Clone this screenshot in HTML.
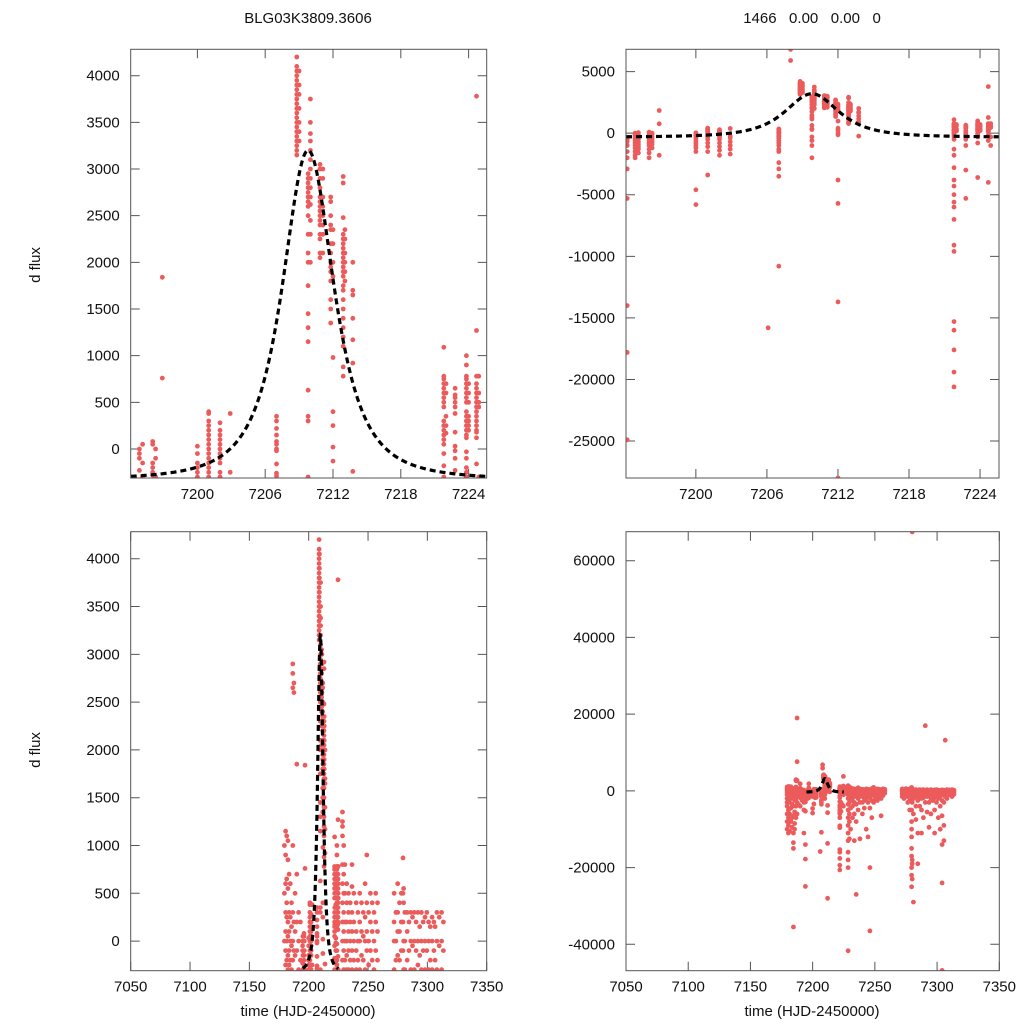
<!DOCTYPE html>
<html><head><meta charset="utf-8"><title>BLG03K3809.3606 light curve</title>
<style>
html,body{margin:0;padding:0;background:#fff;width:1024px;height:1024px;overflow:hidden;}
svg{display:block;font-family:"Liberation Sans",Arial,sans-serif;}
</style></head>
<body>
<svg id="chart" width="1024" height="1024" viewBox="0 0 1024 1024" xmlns="http://www.w3.org/2000/svg">
<rect width="1024" height="1024" fill="#fff"/>
</svg>
<script>
// ---- data: observation nights (time) and flux values per night ----
const nightTimes = [7179.5,7180.5,7181.5,7182.5,7183.5,7184.5,7185.5,7186.6,7187.5,7188.5,7190,7191.5,7193,
7194.2,7194.87,7195.15,7196.05,7196.3,7196.9,7200,7201,7202,7202.9,7206.1,7207,7208,7208.8,7209,7209.8,7210,7210.85,7211.1,7211.8,7212,7212.9,7213.05,7213.75,
7221.8,7222,7222.8,7223.8,7224,7224.7,7224.9,
7228.5,7229.5,7230.5,7232,7233.5,7235,7236.5,7238,7240,7241.5,7243,7244.5,7246,7247.5,7249,7250.5,7252,7253.5,7255,7256.5,7258,
7272,7273.5,7275,7276.5,7278,7279.5,7280,7281,7283,7284.5,7286,7287.5,7289,7290.5,7292,7293.5,7295,7296.5,7298,7299.5,7301,7302.5,7304,7305.5,7306.5,7308,7310,7312,7313.5];
const nightFluxes = [
[1000,500,0,-500,-1000,-2000,-3000,-4000,-6000,-8000,-10000],
[1150,900,600,300,100,-100,-250,-600,-1500,-2500,-5000,-7000,-9000,-11000],
[1100,650,400,250,0,-200,-400,-1000,-3000,-6000,-10500],
[1050,850,550,200,50,-150,-300,-800,-2000,-4500,-8000],
[700,300,100,-100,-250,-700,-1200,-3500,-7000,-9500],
[600,250,0,-200,-500,-1500,-4000,-6500,-11000,-13500,-15000,-35500],
[400,150,-50,-300,-900,-2500,-5500,-8500,-10000],
[2900,2800,2650,1000,300,0,-200,-700,-2000,-4000,-7000],
[19000,7600,2700,2600,200,-100,-400,-1200,-3000,-6000],
[500,100,-150,-500,-1500,-3500],
[1850,700,200,-100,-600,-1800,-4000],
[300,0,-300,-1000,-2500],
[200,-200,-800,-1600,-3000,-5000,-11000],
[-500,-700,-1000,-1500,-2000,-2900,-5300,-14000,-17800,-24900],
[0,-50,-100,-230,-400,-600,-800,-1000,-1200,-1500,-1800,-2000],
[50,-150,-300,-500,-700,-900,-1100,-1300,-1600],
[80,50,-150,-200,-250,-280,-400,-600,-800,-1000,-1300,-1600,-2000],
[0,-100,-300,-500,-700,-900,-1200],
[1840,760,-1800],
[30,-50,-150,-200,-250,-300,-400,-600,-800,-1000,-1200,-1500,-4600,-5800],
[400,380,300,250,200,150,100,50,0,-50,-100,-150,-200,-250,-300,-500,-800,-1100,-1500,-3400],
[280,200,150,100,50,0,-50,-100,-150,-250,-300,-500,-800,-1100,-1400,-1800],
[380,-250,-400,-700,-1000,-1300,-1700],
[-15800],
[350,300,220,150,80,50,0,-20,-160,-260,-290,-400,-600,-800,-1000,-1300,-1500,-2400,-2900,-3500,-10800],
[6800,5900],
[4200,4100,4050,4000,3950,3900,3850,3800,3750,3700,3650,3600,3550,3500,3450,3400,3350,3300,3250,3200,3150],
[4050,3900,3800,3650,3500,3400,3300],
[2950,2900,2850,2800,2750,2700,2650,2600,2500,2300,2100,2000,1750,1450,1300,1150,630,350,300,-300,-600,-1000,-2000],
[3750,3500,3380,3300,3200,3100,3000,2900,2800,2700,2620,2450,2300,2000],
[3050,3000,2900,2800,2700,2650,2600,2550,2500,2450,2400,2300,2250,2100,2050],
[3000,2900,2700,2600,2500,2400,2300,2100],
[2700,2650,2500,2400,2350,2200,2100,2000,1950,1900,1800,1600,1500,1350],
[2350,2200,2000,1850,980,400,250,20,-130,-3800,-5700,-13700,-28000],
[2920,2850,2480,2300,2250,2200,2150,2100,2050,2000,1950,1900,1850,1750,1700,1600,1500,1400,1300,1200,1100,880,780],
[2350,2250,2100,2000,1900,1800],
[2000,1700,1650,1400,1170,920,-240],
[1090,780,750,700,650,600,550,500,450,300,250,200,150,100,50,-50,-180,-300,-500,-1300,-1800,-2800,-3800,-4300,-5000,-5600,-6000,-7000,-9100,-9600,-15300,-16000,-17600,-19400,-20600],
[700,600,350,250,170],
[650,580,550,500,450,380,180,30,-20,-100,-230,-500,-1000,-3000,-5300],
[1000,900,780,750,700,650,600,550,500,400,350,300,250,200,150,120,-30,-100,-200,-250,-300,-800,-3600],
[700,600,500,350,300,250,200],
[3780,1270,780,700,650,600,550,500,450,400,350,300,250,200,180,120,-160,-600,-4000],
[780,600,500,450,-300,-1000],
[1350,1250,1200,1100,800,600,400,200,0,-200,-500,-1000,-2000,-3500,-5000,-7000,-9000,-11000,-13000,-16000,-18000,-20000,-41700],
[1000,700,500,300,100,-100,-300,-700,-1500,-3000,-6000,-8000,-12500],
[800,500,200,0,-200,-600,-1200,-2500,-4500,-10000],
[600,400,200,0,-150,-300,-800,-2000,-4000,-7000],
[500,300,100,-100,-300,-1000,-3000,-6000,-13000],
[400,200,0,-200,-500,-1500,-3500,-8000,-27000],
[800,570,300,100,-100,-300,-800,-2000,-5000],
[500,200,0,-200,-600,-1500,-3000,-12500],
[400,100,-100,-300,-700,-1500,-3000,-6000],
[300,0,-200,-500,-1200,-2500,-4500],
[500,200,0,-300,-800,-2000,-10000],
[400,100,-150,-500,-1500,-3000,-12000],
[300,50,-200,-600,-1800,-4500,-20000,-36500],
[600,250,0,-300,-900,-2500,-7000],
[900,400,100,-100,-400,-1200,-3000],
[300,0,-250,-700,-2000],
[500,200,-100,-400,-1000,-2500],
[400,100,-200,-600,-1500],
[300,0,-300,-800,-2000,-6500],
[500,200,-100,-500,-1200],
[400,100,-200,-600],
[500,200,0,-300,-800,-1500],
[300,0,-200,-600,-1200,-2000],
[600,300,100,-150,-500,-1000],
[400,100,-200,-500,-1500,-3000],
[500,200,-100,-400,-1000,-2500,-5000],
[870,500,200,-100,-500,-1500,-5000,-8000,-10000,-12000,-15000,-17000,-20000,-22000,-25000],
[67500,550,400,0,-300,-1000,-3000,-18000,-19000,-23000],
[300,0,-300,-800,-2000,-29000,-6000],
[300,100,-200,-500,-1500,-4000,-7500],
[200,-100,-400,-1000,-2500,-11000,-19000],
[300,0,-300,-800,-1500,-4000],
[250,-50,-400,-900,-2000,-5000,-11000],
[300,0,-300,-700,-1800,-7000],
[17000,200,-100,-400,-1000,-3000],
[300,0,-250,-700,-1500,-5500],
[150,-150,-500,-1200,-3000,-9500],
[300,0,-300,-800,-2000,-6000],
[200,-100,-400,-1000,-2500],
[250,0,-300,-700,-1800,-11000,-5000],
[300,-100,-500,-1200,-3000],
[200,0,-300,-800,-2000,-7000],
[150,-200,-500,-1500,-4000,-10000],
[250,0,-300,-900,-2500,-6500,-14000,-24000,-46800],
[200,-100,-400,-1100,-3000,-9000,-13000],
[13200,150,-200,-600,-1500],
[300,0,-300,-800,-2000],
[250,-50,-400,-1000],
[300,0,-300,-700,-1500],
[200,-100,-400,-900]
];
// model (microlensing fit) parameters
const modelBase = -330, modelAmp = 3530, modelT0 = 7209.8, modelWidth = 3.52, modelPow = 1.5;
// tick labels
const zoomTimeTicks = [7200,7206,7212,7218,7224];
const fullTimeTicks = [7050,7100,7150,7200,7250,7300,7350];
const smallFluxTicks = [0,500,1000,1500,2000,2500,3000,3500,4000];
const zoomFullFluxTicks = [5000,0,-5000,-10000,-15000,-20000,-25000];
const fullFluxTicks = [-40000,-20000,0,20000,40000,60000];

const NS = 'http://www.w3.org/2000/svg';
const svg = document.getElementById('chart');
function mk(tag, attrs, parent){
  const e = document.createElementNS(NS, tag);
  for (const k in attrs) e.setAttribute(k, attrs[k]);
  (parent||svg).appendChild(e);
  return e;
}
function model(t){
  const d = (t - modelT0)/modelWidth;
  return modelBase + modelAmp/Math.pow(1 + d*d, modelPow);
}

const panels = [
  {id:'top-left', x0:130.7, x1:486.7, y0:49.3, y1:478, xr:[7194.1,7225.6], yr:[-311,4283], xt:zoomTimeTicks, yt:smallFluxTicks, mr:[7194.1,7225.6]},
  {id:'top-right', x0:626, x1:999, y0:49.3, y1:478, xr:[7194.1,7225.6], yr:[-28000,6810], xt:zoomTimeTicks, yt:zoomFullFluxTicks, mr:[7194.1,7225.6]},
  {id:'bottom-left', x0:130.7, x1:486.7, y0:531.7, y1:970.7, xr:[7050,7350], yr:[-310,4283], xt:fullTimeTicks, yt:smallFluxTicks, mr:[7195,7225]},
  {id:'bottom-right', x0:626, x1:999.3, y0:531.7, y1:970.7, xr:[7050,7350], yr:[-46880,67560], xt:fullTimeTicks, yt:fullFluxTicks, mr:[7195,7225]}
];

panels.forEach((p, pi) => {
  const sx = t => p.x0 + (t - p.xr[0])/(p.xr[1]-p.xr[0])*(p.x1-p.x0);
  const sy = v => p.y1 - (v - p.yr[0])/(p.yr[1]-p.yr[0])*(p.y1-p.y0);
  const g = mk('g', {});
  
  
  const cp = mk('clipPath', {id:'clip'+pi}, g);
  mk('rect', {x:p.x0, y:p.y0, width:p.x1-p.x0, height:p.y1-p.y0}, cp);

  p.xt.forEach(t => {
    const x = sx(t);
    const tk = mk('path', {d:`M${x},${p.y1}v-9M${x},${p.y0}v9`, stroke:'#555', 'stroke-width':1}, g);
    
    
    const lb = mk('text', {x:x, y:p.y1+21, 'text-anchor':'middle', 'font-size':15, fill:'#111'}, g);
    lb.textContent = t;
    
    
  });
  p.yt.forEach(v => {
    const y = sy(v);
    const tk = mk('path', {d:`M${p.x0},${y}h9M${p.x1},${y}h-9`, stroke:'#555', 'stroke-width':1}, g);
    
    
    const lb = mk('text', {x:p.x0-11, y:y+5, 'text-anchor':'end', 'font-size':15, fill:'#111'}, g);
    lb.textContent = v;
    
    
  });

  const pts = mk('g', {'clip-path':`url(#clip${pi})`, fill:'#ec5b5b'}, g);
  
  
  nightTimes.forEach((t, i) => {
    nightFluxes[i].forEach(v => {
      const c = mk('circle', {cx:sx(t).toFixed(1), cy:sy(v).toFixed(1), r:2.4}, pts);
      
      
    });
  });

  let d = '';
  const n = 400;
  for (let k = 0; k <= n; k++){
    const t = p.mr[0] + (p.mr[1]-p.mr[0])*k/n;
    d += (k ? 'L' : 'M') + sx(t).toFixed(2) + ',' + sy(model(t)).toFixed(2);
  }
  const ml = mk('path', {d:d, fill:'none', stroke:'#000', 'stroke-width':3.2, 'stroke-dasharray':'6,4', 'clip-path':`url(#clip${pi})`}, g);
  
  

  const fr = mk('rect', {x:p.x0, y:p.y0, width:p.x1-p.x0, height:p.y1-p.y0, fill:'none', stroke:'#555', 'stroke-width':1}, g);
  
  
});

function label(txt, attrs, name){
  const e = mk('text', attrs);
  e.textContent = txt;
  
  
}
label('BLG03K3809.3606', {x:308, y:23, 'text-anchor':'middle', 'font-size':15, fill:'#111'}, 'left-title');
label('1466\u00a0\u00a0\u00a00.00\u00a0\u00a0\u00a00.00\u00a0\u00a0\u00a00', {x:812, y:23, 'text-anchor':'middle', 'font-size':15, fill:'#111'}, 'right-title');
label('d flux', {x:0, y:0, 'text-anchor':'middle', 'font-size':15, fill:'#111', transform:'translate(40,265) rotate(-90)'}, 'y-axis-title-top');
label('d flux', {x:0, y:0, 'text-anchor':'middle', 'font-size':15, fill:'#111', transform:'translate(40,750) rotate(-90)'}, 'y-axis-title-bottom');
label('time (HJD-2450000)', {x:308, y:1016, 'text-anchor':'middle', 'font-size':15, fill:'#111'}, 'x-axis-title-left');
label('time (HJD-2450000)', {x:812, y:1016, 'text-anchor':'middle', 'font-size':15, fill:'#111'}, 'x-axis-title-right');
</script>
</body></html>
